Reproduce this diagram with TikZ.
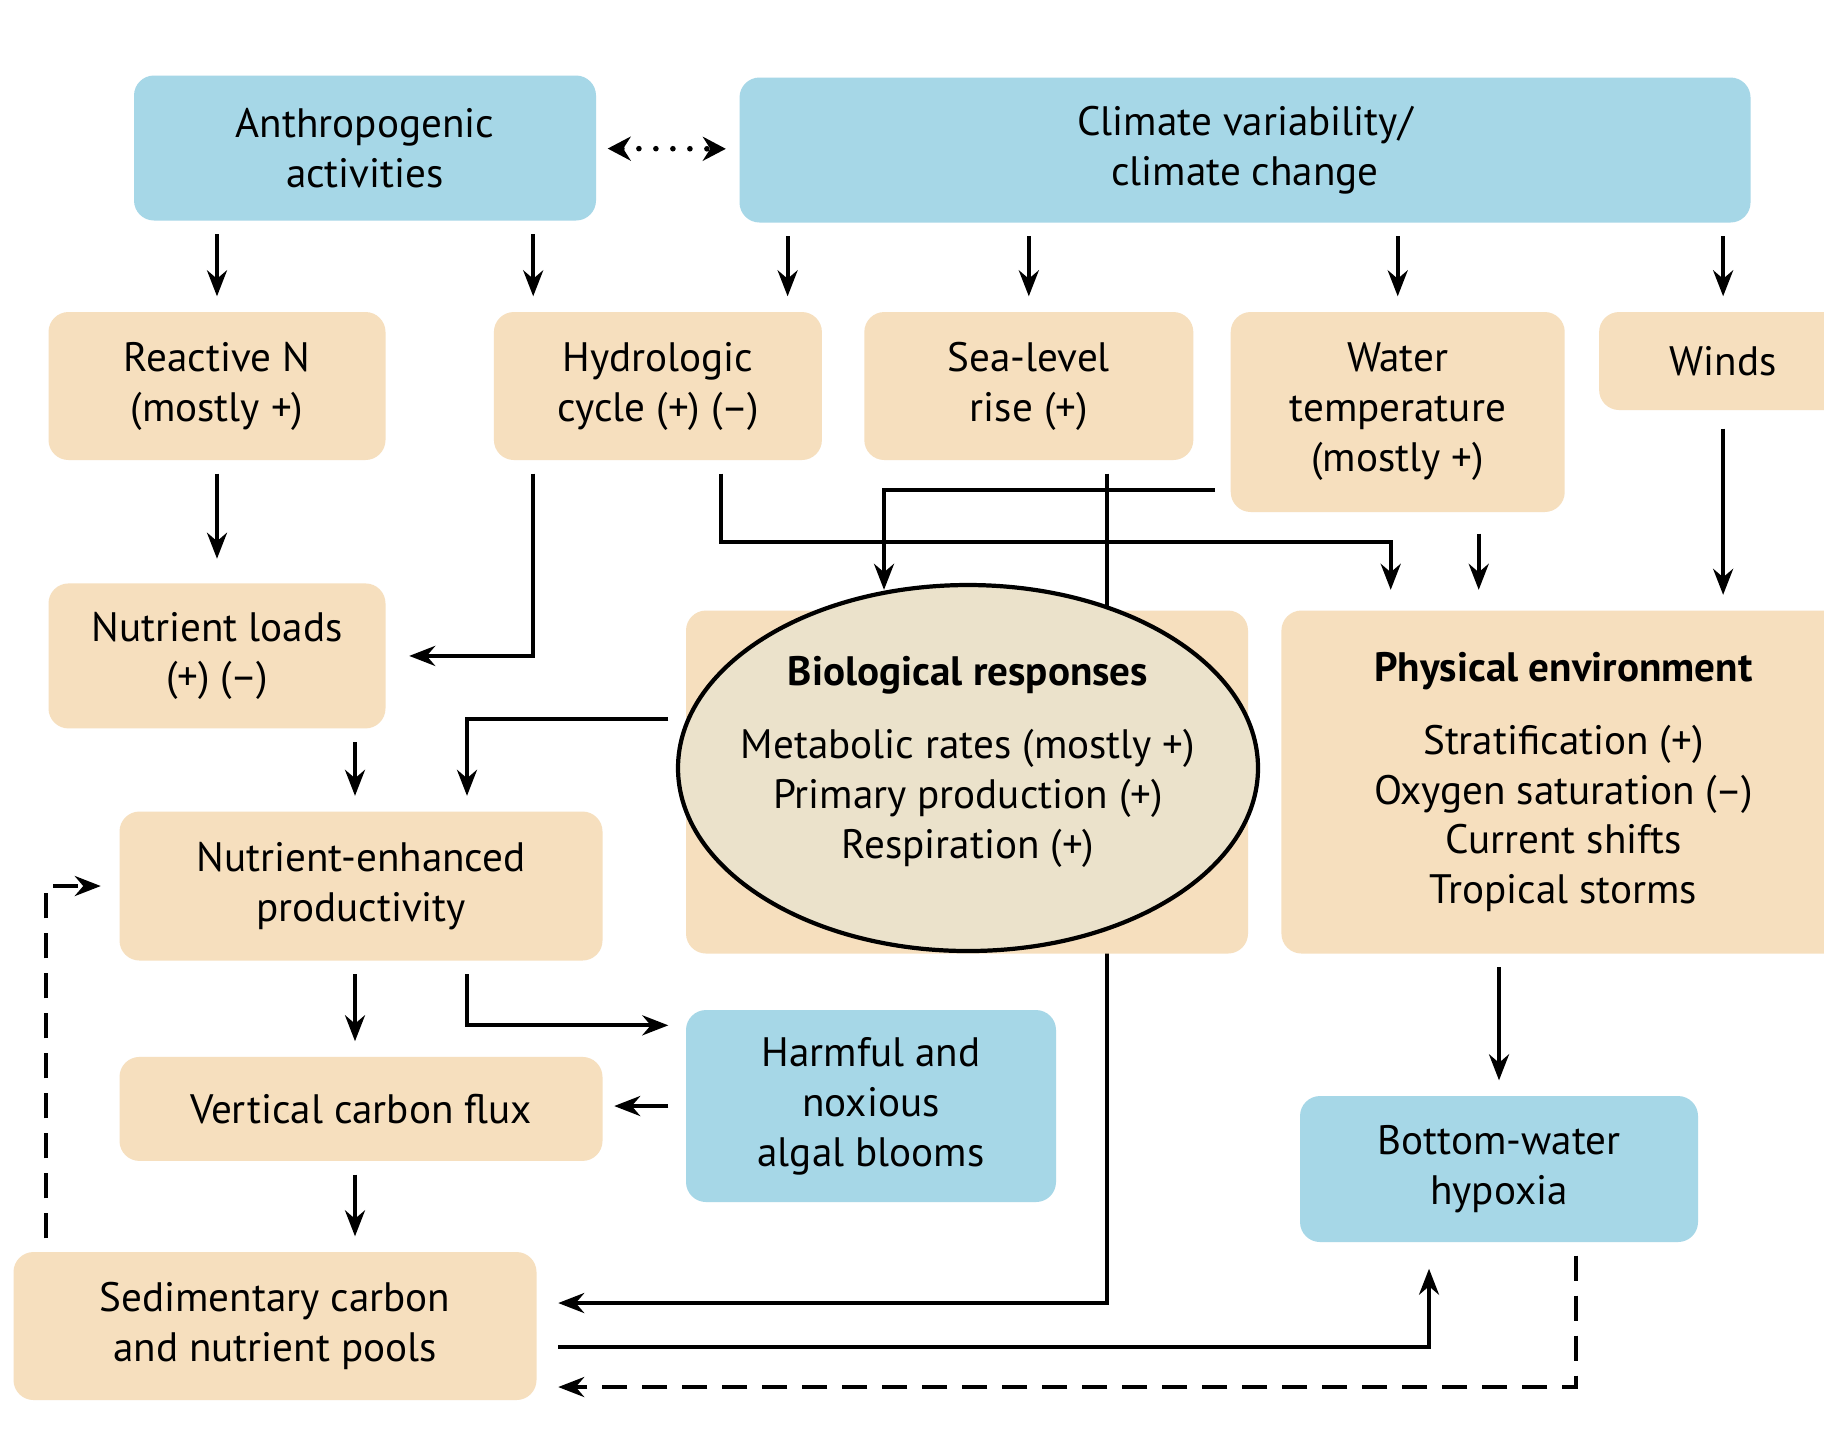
\documentclass[tikz,border=0pt]{standalone}
\usepackage{fontspec}
\setmainfont{PT Sans}
\usepackage{tikz}
\usetikzlibrary{shapes,arrows.meta,positioning,backgrounds}
\definecolor{skyblue}{RGB}{166, 215, 231}
\definecolor{sand}{RGB}{246, 223, 190}
\definecolor{shade}{RGB}{235, 226, 203}
\tikzstyle{driver} = [rectangle, rounded corners=2mm, fill=skyblue, text=black, align=center, inner sep=0pt, font=\fontsize{11.7}{14.2}\selectfont]
\tikzstyle{effect} = [rectangle, rounded corners=2mm, fill=sand, text=black, align=center, inner sep=0pt, font=\fontsize{11.7}{14.2}\selectfont]
\tikzstyle{textonly} = [draw=none, fill=none, text=black, align=center, font=\fontsize{11.7}{14.2}\selectfont]
\tikzstyle{tedge} = [draw, line width=1.1pt, -{Stealth[length=2.6mm, width=2mm]}, shorten <=1.3mm, shorten >=1.5mm]
\tikzstyle{dedge} = [tedge, dash pattern=on 2.5mm off 1.5mm]
\tikzstyle{pedge} = [draw, line width=1.6pt, {Stealth[length=2.3mm, width=2.4mm]}-{Stealth[length=2.3mm, width=2.4mm]}, line cap=round, dash pattern=on 0pt off 1.7mm, shorten <=1.1mm, shorten >=1.3mm]

\begin{document}
\begin{tikzpicture}[x=0.1mm, y=-0.1mm]
\clip (0,0) rectangle (1824,1441);

% drivers =============================
\node[driver, minimum width=46.2mm, minimum height=14.5mm] (anthro) at (365,148) {Anthropogenic\\activities};
\node[driver, minimum width=101.1mm, minimum height=14.5mm] (climate) at (1245,150) {Climate variability/\\climate change};

% pressures
\node[effect, minimum width=33.7mm, minimum height=14.8mm] (reactN) at (217,386) {Reactive N\\(mostly +)};
\node[effect, minimum width=32.8mm, minimum height=14.8mm, right=10.7mm of reactN] (hydro) {Hydrologic\\cycle (+) (–)};
\node[effect, minimum width=32.9mm, minimum height=14.8mm, right=4.1mm of hydro] (sealevel) {Sea-level\\rise (+)};
\node[effect, minimum width=33.4mm, minimum height=20mm, anchor=north west] (watertemp) at ([xshift=3.6mm]sealevel.north east) {Water\\temperature\\(mostly +)};
\node[effect, minimum width=24.8mm, minimum height=9.8mm, anchor=north west] (winds) at ([xshift=3.3mm]watertemp.north east) {Winds};

% responses
\node[effect, minimum width=33.7mm, minimum height=14.5mm, below=12.2mm of reactN] (nutloads) {Nutrient loads\\(+) (–)};
\node[effect, minimum width=56.2mm, minimum height=34.3mm] (bio) at (967,782) {};
\node[effect, minimum width=56.4mm, minimum height=34.3mm, right=3.2mm of bio] (phys) {\textbf{Physical environment}\\[2.3mm]Stratification (+)\\Oxygen saturation (–)\\Current shifts\\Tropical storms};
\node[draw, ellipse, line width=1.2pt, fill=shade, minimum width=58mm, minimum height=36.6mm, inner sep=0pt] (bioell) at (968,768) {};
\node[textonly] (biotext) at (968,762) {\textbf{Biological responses}\\[2.3mm]Metabolic rates (mostly +)\\Primary production (+)\\Respiration (+)};

% consequences
\node[effect, minimum width=48.3mm, minimum height=14.9mm] (nutenh) at (361,886) {Nutrient-enhanced\\productivity};
\node[effect, minimum width=48.3mm, minimum height=10.4mm, below=9.5mm of nutenh] (vflux) {Vertical carbon flux};
\node[driver, minimum width=37mm, minimum height=19.2mm] (habs) at (871,1106) {Harmful and\\noxious\\algal blooms};
\node[driver, minimum width=39.8mm, minimum height=14.6mm] (hypoxia) at (1499,1169) {Bottom-water\\hypoxia};
\node[effect, minimum width=52.3mm, minimum height=14.8mm] (sedim) at (275,1326) {Sedimentary carbon\\and nutrient pools};

% bends
\coordinate (hydroL) at ([xshift=4mm]hydro.south west);
\coordinate (hydroR) at ([xshift=-10.2mm]hydro.south east);
\coordinate (climL) at ([xshift=-3.5mm]hydro.north east);
\coordinate (seaR) at ([xshift=-8.7mm]sealevel.south east);
\coordinate (tempR) at ([xshift=8.1mm]watertemp.south);
\coordinate (physL) at ([xshift=11mm]phys.north west);
\coordinate (bioL) at ([xshift=-8.3mm]bio.north);
\coordinate (enhM) at ([xshift=-0.6mm]nutenh.north);
\coordinate (enhR) at ([xshift=10.6mm]nutenh.south);
\coordinate (dashL) at ([xshift=3.3mm]sedim.north west);
\coordinate (hypL) at ([xshift=-7mm]hypoxia.south);
\coordinate (hypR) at ([xshift=7.7mm]hypoxia.south);

\begin{scope}[on background layer]
\fill[white] (0,0) rectangle (1824,1441);

% edges from drivers
\path[pedge] (anthro) -- (climate);
\path[tedge] (reactN |- anthro.south) -- (reactN.north);
\path[tedge] (hydroL |- anthro.south) -- (hydroL |- hydro.north);
\path[tedge] (climL |- climate.south) -- (climL);
\path[tedge] (sealevel |- climate.south) -- (sealevel.north);
\path[tedge] (watertemp |- climate.south) -- (watertemp.north);
\path[tedge] (winds |- climate.south) -- (winds.north);

% edges pressures to responses
\path[tedge, shorten >=2.4mm] (reactN.south) -- (nutloads.north);
\path[tedge, shorten >=2.3mm] (hydroL) |- (nutloads.east);
\path[tedge, shorten >=2mm] (hydroR) -- ++(0,81) -| (physL);
\path[tedge, shorten <=1.5mm, shorten >=2mm] ([yshift=2.3mm]watertemp.south west) -| (bioL);
\path[tedge, shorten >=2.1mm] (seaR) |- ([yshift=2.3mm]sedim.east);
\path[tedge, shorten <=2.1mm, shorten >=2mm] (tempR) -- (tempR |- phys.north);
\path[tedge, shorten <=1.8mm] (winds.south) -- (winds.south |- phys.north);

% edges among consequences
\path[tedge] (enhM |- nutloads.south) -- (enhM);
\path[tedge, shorten <=1.7mm] ([yshift=6.3mm]bio.west) -| (enhR |- nutenh.north);
\path[dedge, shorten >=1.8mm] (dashL) |- (nutenh.west);
\path[tedge] (enhM |- nutenh.south) -- (enhM |- vflux.north);
\path[tedge, shorten >=1.7mm] (enhR) |- ([yshift=-1.6mm]habs.north west);
\path[tedge, shorten <=1.7mm, shorten >=1.1mm] (habs.west) -- (habs.west -| vflux.east);
\path[tedge] (enhM |- vflux.south) -- (enhM |- sedim.north);
\path[tedge, shorten <=2.1mm, shorten >=2.6mm] ([yshift=-2.1mm]sedim.east) -| (hypL);
\path[dedge, shorten >=2.1mm] (hypR) |- ([yshift=-6.1mm]sedim.east);
\path[tedge] (hypoxia |- phys.south) -- (hypoxia.north);
\end{scope}

\end{tikzpicture}
\end{document}
